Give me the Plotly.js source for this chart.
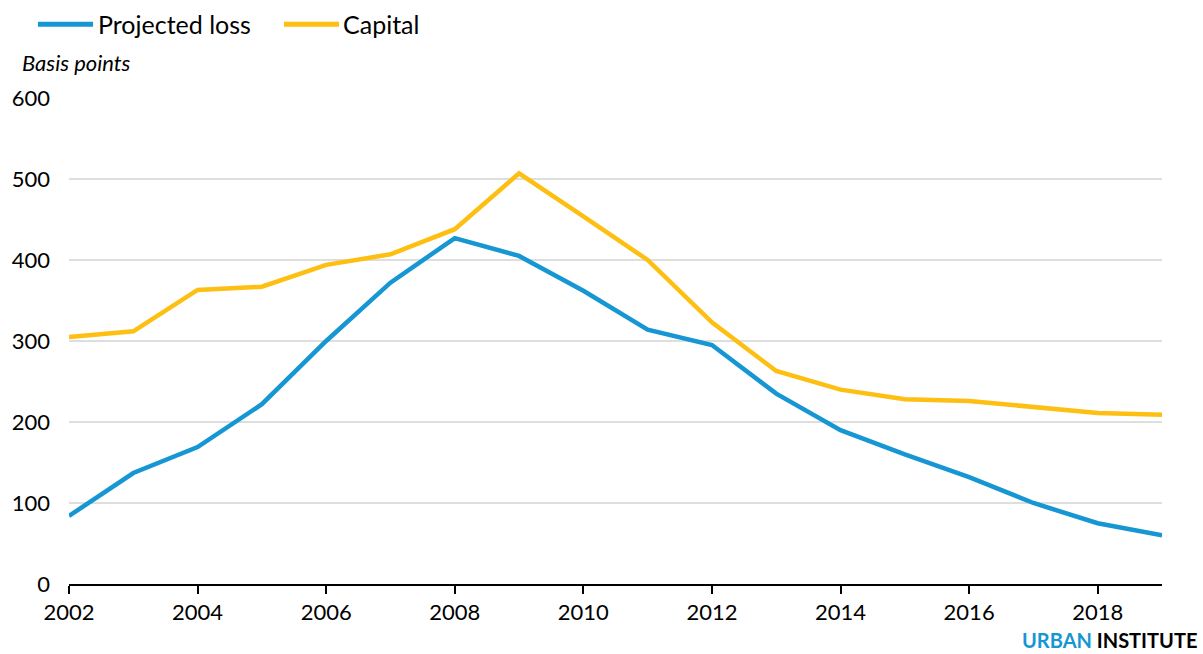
<!DOCTYPE html>
<html>
<head>
<meta charset="utf-8">
<script src="https://cdn.plot.ly/plotly-3.0.1.min.js"></script>
<style>html,body{margin:0;padding:0;background:#fff;}#chart{width:1203px;height:654px;}</style>
</head>
<body>
<div id="chart"></div>
<script>
const years = [2002,2003,2004,2005,2006,2007,2008,2009,2010,2011,2012,2013,2014,2015,2016,2017,2018,2019];
const projectedLoss = [84,137,169,222,300,372,427,405,362,314,295,235,190,160,132,100,75,60];
const capital = [305,312,363,367,394,407,438,507,454,400,323,263,240,228,226,218,211,209];
const seriesNames = ["Projected loss","Capital"];
const seriesColors = ["#1696d2","#fdbf11"];
const xTicks = [2002,2004,2006,2008,2010,2012,2014,2016,2018];
const yTicks = [0,100,200,300,400,500,600];

const FONT = "Lato, 'Open Sans', sans-serif";
const traces = [
  {x: years, y: projectedLoss, name: seriesNames[0], type: "scatter", mode: "lines",
   line: {color: seriesColors[0], width: 4.5}, showlegend: false},
  {x: years, y: capital, name: seriesNames[1], type: "scatter", mode: "lines",
   line: {color: seriesColors[1], width: 4.5}, showlegend: false}
];

// custom legend (layout positions in paper coordinates)
const legendItems = [
  {x0: -0.0284, x1: 0.0220, tx: 0.0265},
  {x0: 0.1967, x1: 0.2470, tx: 0.2507}
];
const legendY = 1.152;
const shapes = legendItems.map((it, i) => ({
  type: "line", xref: "paper", yref: "paper", x0: it.x0, x1: it.x1, y0: legendY, y1: legendY,
  line: {color: seriesColors[i], width: 5}
}));
const legendText = legendItems.map((it, i) => ({
  text: seriesNames[i], xref: "paper", yref: "paper", x: it.tx, y: legendY,
  xanchor: "left", yanchor: "middle", showarrow: false, xshift: -2,
  font: {family: FONT, size: 25, color: "#000"}
}));

const layout = {
  width: 1203, height: 654,
  margin: {l: 69, r: 41, t: 98, b: 70, autoexpand: false},
  paper_bgcolor: "#fff", plot_bgcolor: "#fff",
  font: {family: FONT, size: 22, color: "#000"},
  showlegend: false,
  xaxis: {range: [2002, 2019], tickvals: xTicks, ticktext: xTicks.map(String),
          showgrid: false, zeroline: false, showline: true, linecolor: "#000", linewidth: 2,
          ticks: "outside", ticklen: 8, tickwidth: 2, tickcolor: "#000",
          tickfont: {family: FONT, size: 22, color: "#000"}, fixedrange: true},
  yaxis: {range: [0, 600], tickvals: yTicks, ticktext: yTicks.map(String),
          showgrid: true, gridcolor: "#dedede", gridwidth: 2, zeroline: false,
          showline: false, ticks: "", ticklabelstandoff: 18,
          tickfont: {family: FONT, size: 22, color: "#000"}, fixedrange: true},
  shapes: shapes,
  annotations: legendText.concat([
    {text: "<i>Basis points</i>", xref: "paper", yref: "paper", x: -0.0445, y: 1.073,
     xanchor: "left", yanchor: "middle", showarrow: false,
     font: {family: FONT, size: 22, color: "#000"}},
    {text: "<b><span style='color:#1696d2'>URBAN</span> INSTITUTE</b>", xref: "paper", yref: "paper",
     x: 1.0329, y: -0.1425, xanchor: "right", yanchor: "bottom", showarrow: false, borderpad: 0,
     font: {family: FONT, size: 20, color: "#000"}}
  ])
};
Plotly.newPlot("chart", traces, layout, {displayModeBar: false, staticPlot: true});
</script>
</body>
</html>
